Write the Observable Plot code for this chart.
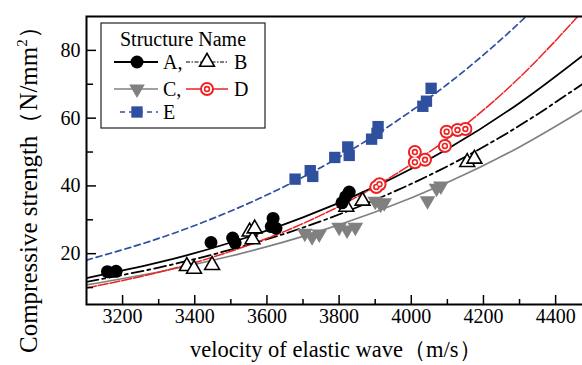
<!DOCTYPE html>
<html><head><meta charset="utf-8">
<script src="https://cdn.jsdelivr.net/npm/d3@7"></script>
<script src="https://cdn.jsdelivr.net/npm/@observablehq/plot@0.6"></script>
<style>
body{margin:0;background:#fff}
svg, svg text{font-family:"Liberation Serif","Times New Roman",serif !important}
</style>
</head><body><div id="chart"></div>
<script>
// ---- axis ticks ----
const xTicks = [3200, 3400, 3600, 3800, 4000, 4200, 4400];
const xMinor = [3300, 3500, 3700, 3900, 4100, 4300];
const yTicks = [20, 40, 60, 80];
const yMinor = [10, 30, 50, 70];

// ---- measured points ----
const aV = [3158, 3182, 3445, 3505, 3512, 3612, 3617, 3625, 3808, 3818, 3828];
const aS = [14.7, 14.8, 23.3, 24.6, 23.2, 28.0, 30.4, 27.5, 35.0, 36.8, 38.2];
const bV = [3378, 3398, 3448, 3552, 3560, 3566, 3820, 3865, 4155, 4175];
const bS = [16.3, 15.5, 16.6, 26.5, 24.2, 27.4, 33.8, 35.6, 47.0, 48.0];
const cV = [3705, 3725, 3745, 3800, 3822, 3845, 3900, 3915, 3925, 4045, 4070, 4082];
const cS = [26.0, 25.0, 25.8, 27.8, 27.0, 27.8, 35.5, 34.6, 35.0, 35.6, 39.3, 40.0];
const dV = [3903, 3912, 4010, 4010, 4038, 4093, 4098, 4128, 4150];
const dS = [39.7, 40.5, 50.0, 47.0, 47.7, 51.8, 56.0, 56.5, 56.8];
const eV = [3678, 3720, 3727, 3788, 3824, 3828, 3890, 3905, 3908, 4032, 4042, 4055];
const eS = [42.0, 44.5, 42.8, 48.4, 51.5, 49.0, 53.8, 55.5, 57.5, 63.5, 65.0, 68.8];

// ---- fitted curves ----
const fitV = [3100, 3300, 3500, 3700, 3900, 4100, 4300, 4480];
const fitA = [12.8, 17.4, 23.3, 30.7, 39.8, 50.9, 64.5, 78.9];
const fitB = [11.7, 15.9, 21.2, 27.7, 35.9, 45.8, 57.8, 70.5];
const fitC = [10.8, 14.6, 19.3, 25.1, 32.3, 41.0, 51.5, 62.7];
const fitD = [9.9, 14.5, 20.7, 28.9, 39.8, 53.9, 72.0, 92.2];
const fitE = [18.1, 24.5, 32.6, 42.6, 55.0, 70.0, 88.2, 107.5];

const pts = (v, s) => v.map((d, i) => ({v: d, s: s[i]}));
const fit = (s) => fitV.map((d, i) => ({v: d, s: s[i]}));

const BLUE = "#2f4f9f", RED = "#ee2222", GRAY = "#808080";
const SERIF = "Liberation Serif, Times New Roman, serif";

const triDown = {
  draw(context, size) {
    const y = -Math.sqrt(size / (Math.sqrt(3) * 3));
    context.moveTo(0, -y * 2);
    context.lineTo(-Math.sqrt(3) * y, y);
    context.lineTo(Math.sqrt(3) * y, y);
    context.closePath();
  }
};

const W = 582, H = 365, MT = 16, MB = 61, ML = 86, MR = -2;
const FH = H - MT - MB, FW = W - ML - MR;

const plot = Plot.plot({
  width: W, height: H,
  marginLeft: ML, marginRight: MR, marginTop: MT, marginBottom: MB,
  style: "font-family: 'Liberation Serif', 'Times New Roman', serif; font-size: 20px; color: #000; background: #fff;",
  x: {domain: [3100, 4480]},
  y: {domain: [5, 90]},
  marks: [
    Plot.line(fit(fitE), {x: "v", y: "s", stroke: BLUE, strokeWidth: 1.7, strokeDasharray: "6,4", curve: "natural", clip: true}),
    Plot.line(fit(fitC), {x: "v", y: "s", stroke: GRAY, strokeWidth: 1.7, curve: "natural", clip: true}),
    Plot.line(fit(fitB), {x: "v", y: "s", stroke: "#000", strokeWidth: 1.8, strokeDasharray: "12,4,3,4", curve: "natural", clip: true}),
    Plot.line(fit(fitA), {x: "v", y: "s", stroke: "#000", strokeWidth: 1.8, curve: "natural", clip: true}),
    Plot.line(fit(fitD), {x: "v", y: "s", stroke: RED, strokeWidth: 1.5, strokeDasharray: "10,2", curve: "natural", clip: true}),
    Plot.dot(pts(cV, cS), {x: "v", y: "s", symbol: triDown, r: 5.8, fill: GRAY}),
    Plot.dot(pts(bV, bS), {x: "v", y: "s", symbol: "triangle", r: 5.5, fill: "#fff", stroke: "#000", strokeWidth: 1.6}),
    Plot.dot(pts(aV, aS), {x: "v", y: "s", r: 6.5, fill: "#000"}),
    Plot.dot(pts(eV, eS), {x: "v", y: "s", symbol: "square", r: 6.4, fill: BLUE}),
    Plot.dot(pts(dV, dS), {x: "v", y: "s", r: 7, fill: RED}),
    Plot.dot(pts(dV, dS), {x: "v", y: "s", r: 5, fill: "#fff"}),
    Plot.dot(pts(dV, dS), {x: "v", y: "s", r: 3.2, fill: RED}),
    Plot.dot(pts(dV, dS), {x: "v", y: "s", r: 1.6, fill: "#fff"}),
    // inward ticks
    Plot.ruleX(xTicks, {stroke: "#000", strokeWidth: 1.5, insetTop: FH - 9}),
    Plot.ruleX(xMinor, {stroke: "#000", strokeWidth: 1.5, insetTop: FH - 5}),
    Plot.ruleY(yTicks, {stroke: "#000", strokeWidth: 1.5, insetRight: FW - 10}),
    Plot.ruleY(yMinor, {stroke: "#000", strokeWidth: 1.5, insetRight: FW - 7}),
    Plot.axisX({ticks: xTicks, tickSize: 0, tickPadding: 4, label: null, fontSize: 20, tickFormat: d => String(d), fontFamily: SERIF}),
    Plot.axisY({ticks: yTicks, tickSize: 0, tickPadding: 6, label: null, fontSize: 20, tickFormat: d => String(d), fontFamily: SERIF}),
    Plot.frame({stroke: "#000", strokeWidth: 2})
  ]
});

const svg = d3.select(plot);

// axis titles
svg.append("text")
  .attr("x", 190).attr("y", 357)
  .attr("text-anchor", "start").attr("font-family", SERIF)
  .attr("font-size", 22.5).attr("fill", "#000")
  .text("velocity of elastic wave（m/s）");

const yt = svg.append("text")
  .attr("transform", "translate(37,353) rotate(-90)")
  .attr("text-anchor", "start").attr("font-family", SERIF)
  .attr("font-size", 25).attr("fill", "#000");
yt.append("tspan").text("Compressive strength（N/mm");
yt.append("tspan").attr("font-size", 15).attr("dy", -10).text("2");
yt.append("tspan").attr("dy", 10).text("）");

// legend
const lg = svg.append("g").attr("font-size", 20).attr("fill", "#000")
  .attr("font-family", SERIF).attr("text-anchor", "start");
lg.append("rect").attr("x", 101).attr("y", 23).attr("width", 164).attr("height", 105)
  .attr("fill", "#fff").attr("stroke", "#222").attr("stroke-width", 1.2);
lg.append("text").attr("x", 183).attr("y", 46).attr("text-anchor", "middle").text("Structure Name");

function row(y, x0, x1, cx, style, marker) {
  lg.append("line").attr("x1", x0).attr("x2", x1).attr("y1", y).attr("y2", y)
    .attr("stroke", style.stroke).attr("stroke-width", style.w)
    .attr("stroke-dasharray", style.dash || null);
  marker(cx, y);
}
// A
row(62, 114, 158, 137, {stroke: "#000", w: 1.8}, (cx, y) =>
  lg.append("circle").attr("cx", cx).attr("cy", y).attr("r", 6.5).attr("fill", "#000"));
lg.append("text").attr("x", 163).attr("y", 69).text("A,");
// B
row(62, 186, 228, 207, {stroke: "#000", w: 1.2, dash: "4,1.5,1.5,1.5"}, (cx, y) =>
  lg.append("path").attr("d", d3.symbol().type(d3.symbolTriangle).size(Math.PI * 5.5 * 5.5)())
    .attr("transform", `translate(${cx},${y})`).attr("fill", "#fff").attr("stroke", "#000").attr("stroke-width", 1.6));
lg.append("text").attr("x", 234).attr("y", 69).text("B");
// C
row(89, 114, 158, 137, {stroke: GRAY, w: 1.7}, (cx, y) =>
  lg.append("path").attr("d", d3.symbol().type(triDown).size(Math.PI * 5.8 * 5.8)())
    .attr("transform", `translate(${cx},${y})`).attr("fill", GRAY));
lg.append("text").attr("x", 163).attr("y", 96).text("C,");
// D
row(89, 186, 228, 207, {stroke: RED, w: 1.5}, (cx, y) => {
  [[7, RED], [5, "#fff"], [3.2, RED], [1.6, "#fff"]].forEach(([r, f]) =>
    lg.append("circle").attr("cx", cx).attr("cy", y).attr("r", r).attr("fill", f));
});
lg.append("text").attr("x", 234).attr("y", 96).text("D");
// E
row(112, 120, 158, 137, {stroke: BLUE, w: 1.7, dash: "5,4"}, (cx, y) =>
  lg.append("path").attr("d", d3.symbol().type(d3.symbolSquare).size(Math.PI * 6.4 * 6.4)())
    .attr("transform", `translate(${cx},${y})`).attr("fill", BLUE));
lg.append("text").attr("x", 163).attr("y", 119).text("E");

document.getElementById("chart").appendChild(plot);
</script>
</body></html>
